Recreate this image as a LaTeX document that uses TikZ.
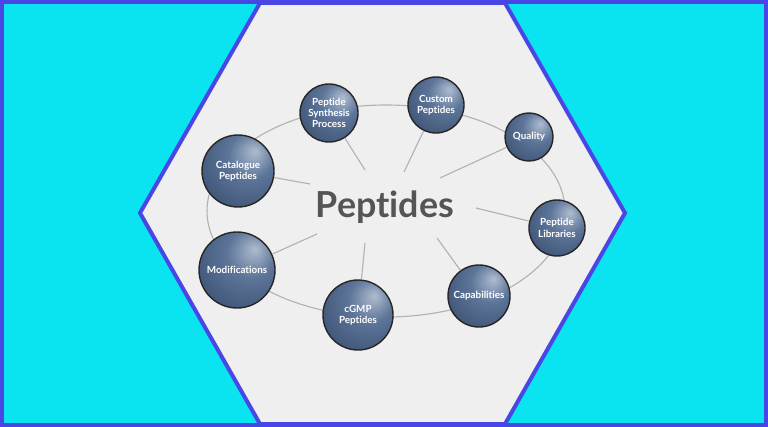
\documentclass[tikz,border=0pt]{standalone}
\usepackage{fontspec}
\setmainfont{Lato}[Ligatures=NoCommon]
\usepackage{tikz}
\usetikzlibrary{calc}

\definecolor{skycyan}{RGB}{10,228,240}
\definecolor{framebl}{RGB}{74,70,230}
\definecolor{panelgray}{RGB}{239,239,239}
\definecolor{ringgray}{RGB}{178,178,178}
\definecolor{orbhi}{RGB}{175,188,208}
\definecolor{orbmid}{RGB}{92,117,152}
\definecolor{orbdark}{RGB}{50,70,104}
\definecolor{titlegray}{RGB}{85,85,85}

\pgfdeclareradialshading{orbshade}{\pgfpoint{12bp}{14bp}}{color(0bp)=(orbhi); color(16bp)=(orbmid); color(46bp)=(orbdark); color(70bp)=(orbdark)}

\begin{document}
\begin{tikzpicture}[x=0.25mm, y=-0.25mm,
  orb/.style={circle, draw=black!85, line width=1pt, shading=orbshade, text=white,
    font=\bfseries\fontsize{7}{8}\selectfont, align=center, inner sep=0pt},
  ringline/.style={draw=ringgray, line width=0.8pt}]
\useasboundingbox (0,0) rectangle (768,427);

% Fondo y hexagono
\fill[skycyan] (0,0) rectangle (768,427);
\draw[fill=panelgray, draw=framebl, line width=1mm, line join=miter]
  (260,3) -- (505,3) -- (625,213) -- (505,424) -- (260,424) -- (140,213) -- cycle;
\draw[framebl, line width=1mm] (2,2) rectangle (766,425);

% Anillo
\draw[ringline] (386,211) ellipse [x radius=179, y radius=106];

% Titulo
\node[font=\bfseries\fontsize{25.5}{28}\selectfont, text=titlegray] (title) at (385,207) {Peptides};

% Esferas
\node[orb, minimum size=14.5mm] (synth) at (329,113) {Peptide\\Synthesis\\Process};
\node[orb, minimum size=14mm] (custom) at (436,105) {Custom\\Peptides};
\node[orb, minimum size=12mm] (quality) at (529,137) {Quality};
\node[orb, minimum size=14mm] (libs) at (557,228) {Peptide\\Libraries};
\node[orb, minimum size=15.5mm] (capab) at (479,296) {Capabilities};
\node[orb, minimum size=17.5mm] (cgmp) at (358,315) {cGMP\\Peptides};
\node[orb, minimum size=19mm] (modif) at (237,270) {Modifications};
\node[orb, minimum size=18mm] (catal) at (238,171) {Catalogue\\Peptides};

% Radios
\coordinate (rs) at (365,170);
\coordinate (rc) at (404,172);
\coordinate (rq) at (440,178);
\coordinate (rl) at (476,208);
\coordinate (rp) at (437,238);
\coordinate (rg) at (365,243);
\coordinate (rm) at (317,234);
\coordinate (rk) at (310,184);
\draw[ringline] (synth) -- (rs);
\draw[ringline] (custom) -- (rc);
\draw[ringline] (quality) -- (rq);
\draw[ringline] (libs) -- (rl);
\draw[ringline] (capab) -- (rp);
\draw[ringline] (cgmp) -- (rg);
\draw[ringline] (modif) -- (rm);
\draw[ringline] (catal) -- (rk);

\end{tikzpicture}
\end{document}
